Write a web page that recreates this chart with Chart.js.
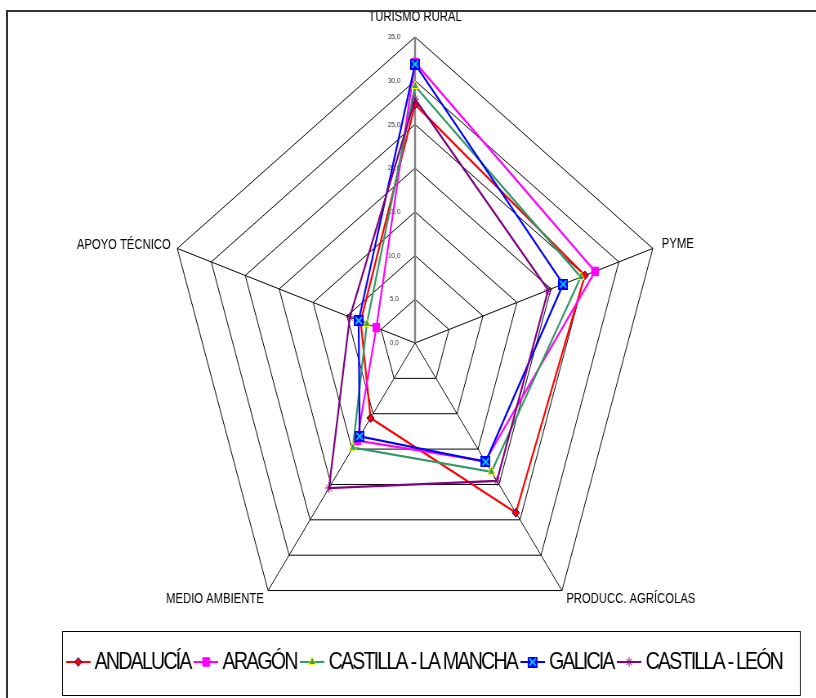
<!DOCTYPE html>
<html><head><meta charset="utf-8">
<script src="https://cdn.jsdelivr.net/npm/chart.js@4.4.0/dist/chart.umd.min.js"></script>
<style>
html,body{margin:0;padding:0;overflow:hidden;background:#fff;width:816px;height:698px;}
#wrap{position:absolute;left:0;top:0;width:999px;height:698px;transform:scaleX(0.817);transform-origin:0 0;}
#frame{position:absolute;left:6px;top:10px;width:900px;height:800px;border-left:2px solid #333;border-top:2px solid #333;pointer-events:none;}
</style></head><body>
<div id="wrap"><canvas id="c"></canvas></div>
<div id="frame"></div>
<script>
// ---- data ----
const categories = ['TURISMO RURAL', 'PYME', 'PRODUCC. AGRÍCOLAS', 'MEDIO AMBIENTE', 'APOYO TÉCNICO'];
const seriesNames = ['ANDALUCÍA', 'ARAGÓN', 'CASTILLA - LA MANCHA', 'GALICIA', 'CASTILLA - LEÓN'];
const andalucia = [27.3, 25.0, 24.0, 10.6, 8.0];
const aragon    = [32.1, 26.5, 16.7, 13.8, 5.7];
const castillaLaMancha = [29.4, 24.4, 18.2, 14.8, 7.1];
const galicia   = [31.9, 21.8, 16.8, 13.2, 8.3];
const castillaLeon = [27.9, 19.6, 19.5, 20.5, 9.6];
const tickLabels = ['0,0', '5,0', '10,0', '15,0', '20,0', '25,0', '30,0', '35,0'];

// ---- styles ----
const FONT = "'Liberation Sans', Arial, sans-serif";
const lineColors = ['#FF0000', '#FF00FF', '#339966', '#0000FF', '#800080'];
const markerFill = ['#FF0000', '#FF00FF', '#339966', '#0000FF', '#800080'];
const markerBorder = ['#000080', '#FF00FF', '#FFFF00', '#0000FF', '#800080'];
const markerRadius = [4.4, 6, 5, 6, 4.8];
const labelPad = [13, 5.6, 3, 3, 2.4];
const CX = 508, CY = 343, R = 306;

function makeGaliciaMarker() {
  const c = document.createElement('canvas'); c.width = 12; c.height = 11;
  const g = c.getContext('2d');
  g.fillStyle = '#0000FF'; g.fillRect(0, 0, 12, 11);
  g.strokeStyle = '#00FFFF'; g.lineWidth = 1.6;
  g.beginPath(); g.moveTo(2, 2); g.lineTo(10, 9); g.moveTo(10, 2); g.lineTo(2, 9); g.stroke();
  return c;
}
const galMarker = makeGaliciaMarker();
const pointStyles = ['rectRot', 'rect', 'triangle', galMarker, 'star'];

function makeIcon(i) {
  const c = document.createElement('canvas'); c.width = 30; c.height = 16;
  const g = c.getContext('2d');
  g.strokeStyle = lineColors[i]; g.lineWidth = 2;
  g.beginPath(); g.moveTo(0, 8); g.lineTo(30, 8); g.stroke();
  const ps = pointStyles[i];
  if (typeof ps === 'object') {
    g.drawImage(ps, 15 - ps.width / 2, 8 - ps.height / 2);
  } else {
    g.fillStyle = markerFill[i]; g.strokeStyle = markerBorder[i]; g.lineWidth = 1;
    Chart.helpers.drawPoint(g, {pointStyle: ps, radius: markerRadius[i], borderWidth: 1, rotation: 0}, 15, 8);
  }
  return c;
}
const icons = [0, 1, 2, 3, 4].map(makeIcon);

const seriesData = [andalucia, aragon, castillaLaMancha, galicia, castillaLeon];
const datasets = seriesData.map((d, i) => ({
  label: seriesNames[i],
  data: d,
  borderColor: lineColors[i],
  backgroundColor: lineColors[i],
  borderWidth: 2.2,
  fill: false,
  pointStyle: pointStyles[i],
  pointRadius: markerRadius[i],
  pointBackgroundColor: markerFill[i],
  pointBorderColor: markerBorder[i],
  pointBorderWidth: 1,
  order: 5 - i
}));

const legendTweaks = {
  id: 'legendTweaks',
  beforeLayout(chart) {
    const lg = chart.legend;
    if (lg && !lg._lsWrapped) {
      const fit = lg.fit, draw = lg.draw;
      lg.fit = function () { const c = this.ctx; const o = c.letterSpacing; c.letterSpacing = '-2.2px'; fit.apply(this, arguments); c.letterSpacing = o; };
      lg.draw = function () { const c = this.ctx; const o = c.letterSpacing; c.letterSpacing = '-2.2px'; draw.apply(this, arguments); c.letterSpacing = o; };
      lg._lsWrapped = true;
    }
  },
  afterDraw(chart) {
    const lg = chart.legend; const hb = lg && lg.legendHitBoxes;
    if (!hb || !hb.length) return;
    const ctx = chart.ctx;
    const left = hb[0].left - 12;
    const last = hb[hb.length - 1];
    const right = last.left + last.width + 22;
    const cy = hb[0].top + hb[0].height / 2;
    ctx.save();
    ctx.strokeStyle = '#000'; ctx.lineWidth = 1;
    ctx.strokeRect(Math.round(left) + 0.5, Math.round(cy - 31) + 0.5, Math.round(right - left), 64);
    ctx.restore();
  }
};

new Chart(document.getElementById('c'), {
  type: 'radar',
  data: { labels: categories, datasets },
  options: {
    responsive: true,
    maintainAspectRatio: false,
    animation: false,
    events: [],
    layout: { padding: { left: 46, right: 0, top: 0, bottom: 14 } },
    elements: { line: { tension: 0 } },
    scales: {
      r: {
        min: -0.000001,
        max: 35,
        ticks: {
          stepSize: 5,
          showLabelBackdrop: false,
          color: '#333',
          font: { family: FONT, size: 8 },
          callback: (v) => tickLabels[Math.round(v / 5)] + ' '.repeat(23)
        },
        grid: { color: '#000', lineWidth: 1 },
        angleLines: {
          color: (c) => c.index === 0 ? '#808080' : '#000',
          lineWidth: (c) => c.index === 0 ? 2.4 : 1
        },
        pointLabels: {
          color: '#000',
          font: { family: FONT, size: 13.8, lineHeight: 0.15 },
          padding: (c) => labelPad[c.index]
        },
        afterSetDimensions: (s) => { s.xCenter = CX; s.yCenter = CY; s.drawingArea = R; }
      }
    },
    plugins: {
      tooltip: { enabled: false },
      legend: {
        position: 'bottom',
        align: 'center',
        labels: {
          usePointStyle: true,
          pointStyleWidth: 16,
          padding: 11,
          color: '#000',
          font: { family: FONT, size: 24 },
          sort: (a, b) => a.datasetIndex - b.datasetIndex,
          generateLabels: (chart) => {
            const items = Chart.defaults.plugins.legend.labels.generateLabels(chart);
            items.forEach(it => { it.pointStyle = icons[it.datasetIndex]; it.fontColor = '#000'; });
            return items;
          }
        }
      }
    }
  },
  plugins: [legendTweaks]
});
</script>
</body></html>
